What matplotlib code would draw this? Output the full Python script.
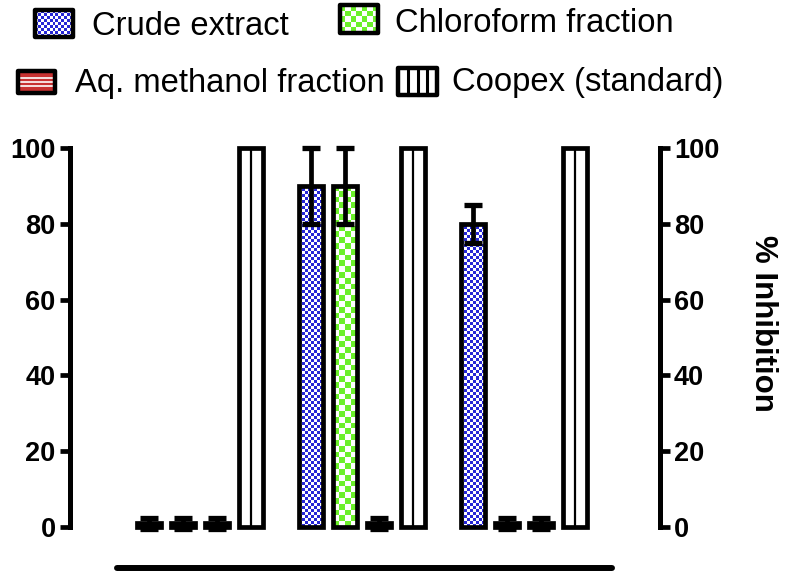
import numpy as np
import matplotlib
matplotlib.use("Agg")
import matplotlib.pyplot as plt
from matplotlib.patches import Rectangle

plt.rcParams['font.family'] = ['Liberation Sans', 'DejaVu Sans']

# ---- data ----
series_names = ["Crude extract", "Chloroform fraction", "Aq. methanol fraction", "Coopex (standard)"]
crude = [1, 90, 80]
crude_err = [1.5, 10, 5]
chloro = [1, 90, 1]
chloro_err = [1.5, 10, 1.5]
aqmeth = [1, 1, 1]
aqmeth_err = [1.5, 1.5, 1.5]
coopex = [100, 100, 100]
coopex_err = [0, 0, 0]
yticks = [0, 20, 40, 60, 80, 100]
ylabel = "% Inhibition"

values = [crude, chloro, aqmeth, coopex]
errors = [crude_err, chloro_err, aqmeth_err, coopex_err]

BLUE = "#2626d6"
GREEN = "#6cf02a"
RED = "#c83232"
fills = [("checker", BLUE, 3.0), ("checker", GREEN, 5.8), ("hlines", RED, None), ("vline", "white", None)]

W, H = 787, 575
fig = plt.figure(figsize=(W / 100, H / 100), dpi=100)
ax = fig.add_axes([69.5 / W, 1 - 527 / H, (660 - 69.5) / W, (527 - 148) / H])

n_groups = len(crude)
group_x = np.arange(n_groups)
step = 0.21
bw = 0.145
LW = 3.4

ax.set_xlim(-0.806, 2.840)
ax.set_ylim(0, 100)


def checker_img(nr, nc, color):
    c = np.array(matplotlib.colors.to_rgb(color))
    img = np.ones((nr, nc, 3))
    for r in range(nr):
        for k in range(nc):
            if (r + k) % 2 == 0:
                img[r, k] = c
    return img


for i, (vals, errs) in enumerate(zip(values, errors)):
    xs = group_x + (i - 1.5) * step
    kind, color, cell = fills[i]
    for x, v in zip(xs, vals):
        x0 = x - bw / 2
        if kind == "checker":
            p0 = ax.transData.transform((x0, 0))
            p1 = ax.transData.transform((x0 + bw, v))
            nc = max(1, int(round(abs(p1[0] - p0[0]) / cell)))
            nr = max(1, int(round(abs(p1[1] - p0[1]) / cell)))
            ax.imshow(checker_img(nr, nc, color), extent=(x0, x0 + bw, 0, v),
                      aspect='auto', interpolation='nearest', zorder=1)
        elif kind == "hlines":
            ax.bar(x, v, width=bw, color=color, linewidth=0, zorder=1)
        else:
            ax.bar(x, v, width=bw, color="white", linewidth=0, zorder=1)
            ax.plot([x, x], [0, v], color="black", lw=1.6, zorder=2)
    bars = ax.bar(xs, vals, width=bw, fill=False, edgecolor="black", linewidth=LW, zorder=3)
    for b in bars:
        b.set_clip_on(False)
    if any(e > 0 for e in errs):
        eb = ax.errorbar(xs, vals, yerr=errs, fmt='none', ecolor='black',
                         elinewidth=3.4, capsize=6.5, capthick=3.8, zorder=4)
        for art in eb.get_children():
            art.set_clip_on(False)

ax.set_xlim(-0.806, 2.840)
ax.set_ylim(0, 100)
ax.set_xticks([])
ax.set_yticks(yticks)

for s in ['left', 'right']:
    ax.spines[s].set_linewidth(3.6)
    ax.spines[s].set_capstyle('projecting')
ax.spines['top'].set_visible(False)
ax.spines['bottom'].set_position(('outward', 29.5))
ax.spines['bottom'].set_bounds(-0.512, 2.543)
ax.spines['bottom'].set_linewidth(4.3)
ax.spines['bottom'].set_capstyle('round')

ax.tick_params(axis='y', which='major', left=True, right=True, labelleft=True, labelright=True,
               direction='out', length=7, width=3.4, pad=3, labelsize=19.5)
for t in ax.yaxis.get_major_ticks():
    t.label1.set_fontweight('bold')
    t.label2.set_fontweight('bold')

# ---- overlay in pixel coordinates: legend and axis title ----
ov = fig.add_axes([0, 0, 1, 1], zorder=10)
ov.set_xlim(0, W)
ov.set_ylim(H, 0)
ov.axis('off')

ov.text(763, 323, ylabel, rotation=270, ha='center', va='center',
        fontsize=22.5, fontweight='bold')

leg_boxes = [(35, 10, 38, 27), (340, 5, 38, 28), (18, 71, 37, 22), (398, 68, 39, 27)]
leg_text = [(92, 35), (395, 32), (75, 92), (452, 91)]

for i, name in enumerate(series_names):
    x0, y0, w, h = leg_boxes[i]
    kind, color, cell = fills[i]
    if kind == "checker":
        nc = max(1, int(round(w / cell)))
        nr = max(1, int(round(h / cell)))
        ov.imshow(checker_img(nr, nc, color), extent=(x0, x0 + w, y0 + h, y0),
                  aspect='auto', interpolation='nearest', zorder=1)
    elif kind == "hlines":
        ov.add_patch(Rectangle((x0, y0), w, h, facecolor=color, lw=0, zorder=1))
        for f in (0.3, 0.5, 0.7):
            ov.plot([x0, x0 + w], [y0 + f * h, y0 + f * h], color="white", lw=1.2, zorder=2)
    else:
        ov.add_patch(Rectangle((x0, y0), w, h, facecolor="white", lw=0, zorder=1))
        for f in (0.25, 0.5, 0.75):
            ov.plot([x0 + f * w, x0 + f * w], [y0, y0 + h], color="black", lw=2.2, zorder=2)
    ov.add_patch(Rectangle((x0, y0), w, h, fill=False, edgecolor="black", lw=3.2,
                           joinstyle='round', zorder=3))
    tx, ty = leg_text[i]
    ov.text(tx, ty, name, fontsize=23.6, va='baseline', ha='left', color='black')

ov.set_xlim(0, W)
ov.set_ylim(H, 0)

fig.savefig("out.png", dpi=100)
